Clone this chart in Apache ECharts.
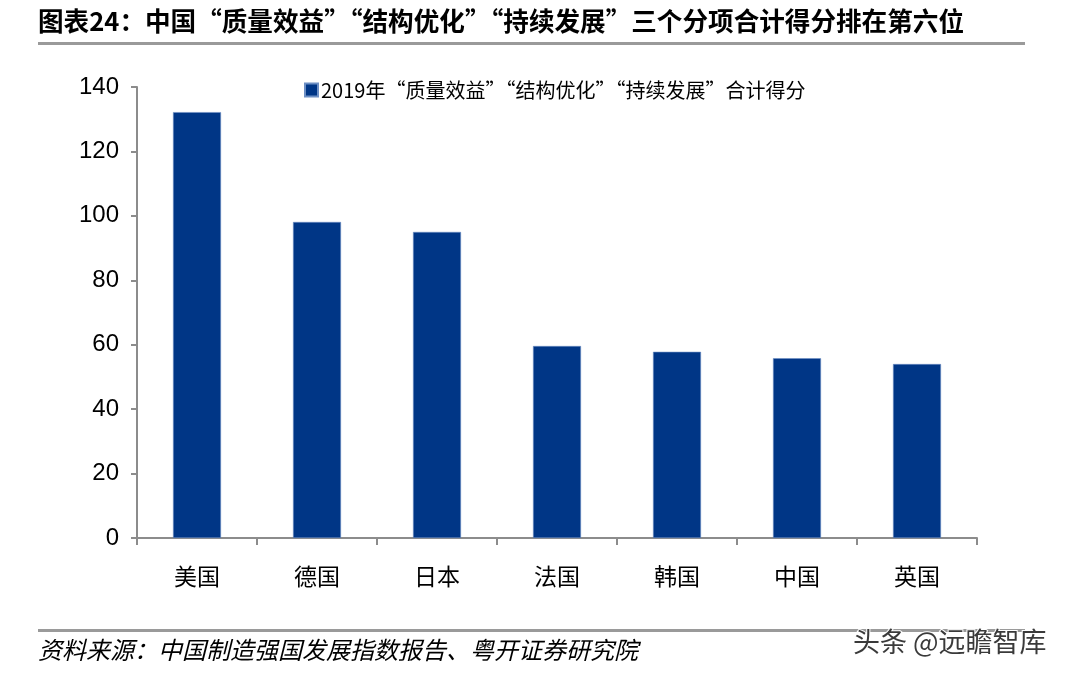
<!DOCTYPE html>
<html><head><meta charset="utf-8">
<script src="https://cdn.jsdelivr.net/npm/echarts@6/dist/echarts.min.js"></script>
<style>html,body{margin:0;padding:0;background:#fff}#c{width:1069px;height:675px}</style>
</head><body><div id="c"></div>
<script>
const categories = ['美国','德国','日本','法国','韩国','中国','英国'];
const scores = [132.2, 98.1, 95.0, 59.6, 57.8, 55.8, 54.0];
const seriesName = '2019年“质量效益”“结构优化”“持续发展”合计得分';
const titleText = '图表24：中国“质量效益”“结构优化”“持续发展”三个分项合计得分排在第六位';
const sourceText = '资料来源：中国制造强国发展指数报告、粤开证券研究院';
const watermark = '头条 @远瞻智库';

const cjk = '"Noto Sans CJK SC", "Liberation Sans", sans-serif';
const chart = echarts.init(document.getElementById('c'), null, {renderer:'canvas'});
chart.setOption({
  animation:false,
  backgroundColor:'#fff',
  legend:{
    data:[seriesName], left:299, top:75, itemWidth:13, itemHeight:13, itemGap:4,
    icon:'rect',
    textStyle:{fontFamily:cjk, fontSize:20, color:'#000', padding:[0,0,0,-2]}
  },
  grid:{left:137, right:92, top:87, bottom:137, containLabel:false},
  xAxis:{
    type:'category', data:categories,
    axisLine:{lineStyle:{color:'#8c8c8c', width:2}},
    axisTick:{show:true, alignWithLabel:false, length:7, lineStyle:{color:'#8c8c8c', width:2}},
    axisLabel:{fontFamily:cjk, fontSize:23, color:'#000', margin:27}
  },
  yAxis:{
    type:'value', min:0, max:140, interval:20,
    axisLine:{show:true, lineStyle:{color:'#8c8c8c', width:2}},
    axisTick:{show:true, length:6, lineStyle:{color:'#8c8c8c', width:2}},
    splitLine:{show:false},
    axisLabel:{fontFamily:'"Liberation Sans", Arial, sans-serif', fontSize:24, color:'#000', margin:18}
  },
  series:[{
    name:seriesName, type:'bar', data:scores, barWidth:'40%',
    itemStyle:{color:'#003686', borderColor:'#6d8fc4', borderWidth:0.6}
  }],
  graphic:[
    {type:'text', left:38, top:8, style:{text:titleText, font:'bold 25.6px '+cjk, fill:'#000'}},
    {type:'rect', shape:{x:38, y:42, width:987, height:3}, style:{fill:'#9a9a9a'}},
    {type:'rect', shape:{x:38, y:629, width:987, height:3}, style:{fill:'#9a9a9a'}},
    {type:'text', left:38, top:638, style:{text:sourceText, font:'italic 24px '+cjk, fill:'#000'}},
    {type:'text', left:852, top:627, style:{text:watermark, font:'27px '+cjk, fill:'#3a3a3a', stroke:'#fff', lineWidth:2}}
  ]
});
</script></body></html>
